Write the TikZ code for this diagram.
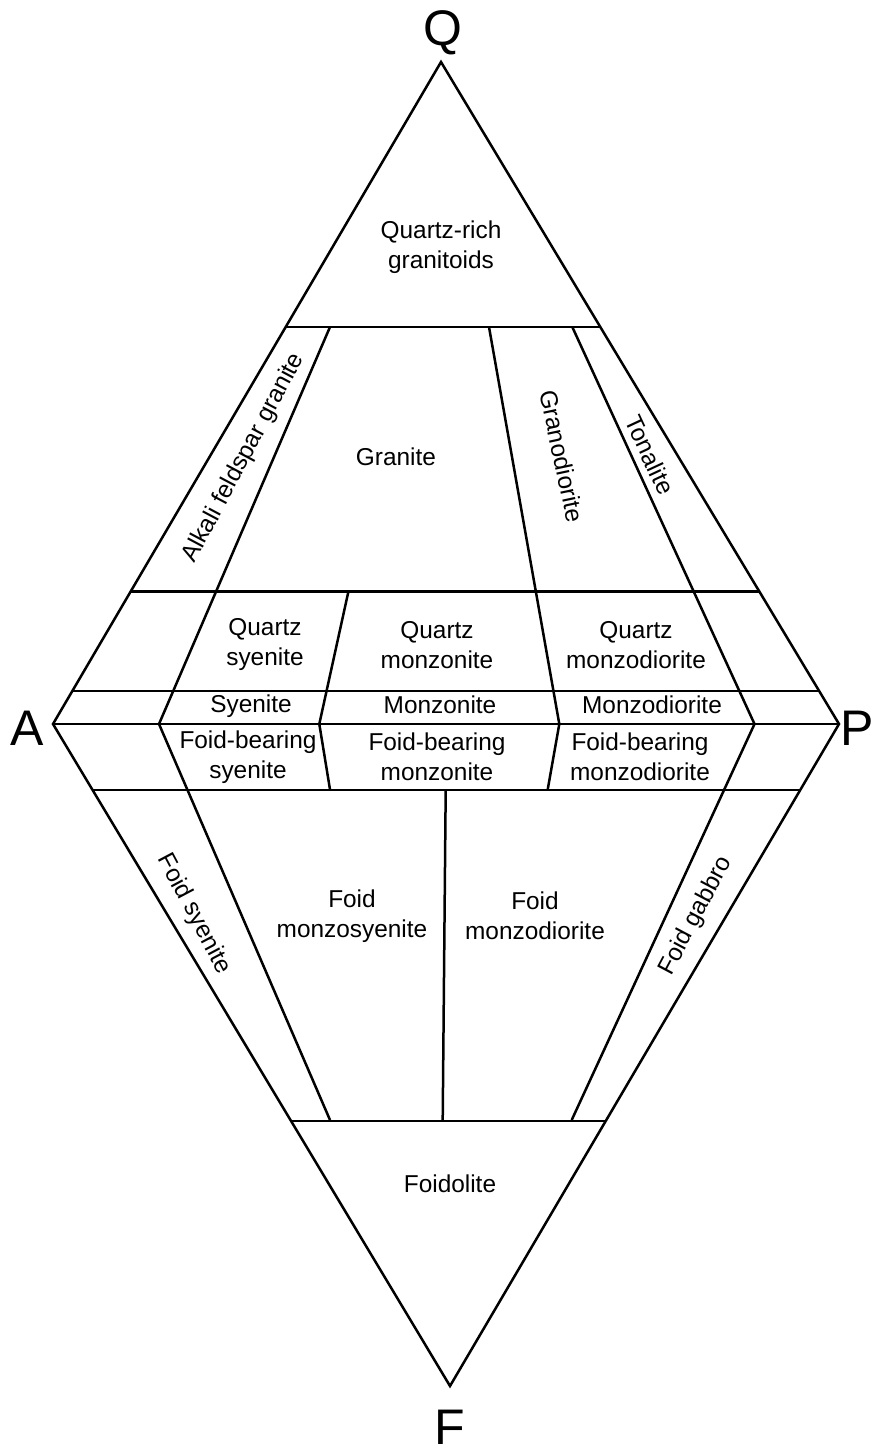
\documentclass[tikz,border=0pt]{standalone}
\usepackage{fontspec}
\setmainfont{Liberation Sans}
\usetikzlibrary{calc}
\begin{document}
\begin{tikzpicture}[x=0.5pt,y=-0.5pt]
\tikzset{
  edge/.style={line width=1.25pt, line join=miter, line cap=butt},
  lbl/.style={font=\fontsize{12.2}{15}\selectfont, align=center, inner sep=0pt},
  apex/.style={font=\fontsize{25}{30}\selectfont, inner sep=0pt, anchor=base}
}
\useasboundingbox (0,0) rectangle (872,1450);
% apexes
\coordinate (Q) at (441,62);
\coordinate (P) at (839,724);
\coordinate (F) at (450,1386);
\coordinate (A) at (53,724);
% horizontal boundary end points
\coordinate (q60a) at ($(Q)!0.4!(A)$);
\coordinate (q60p) at ($(Q)!0.4!(P)$);
\coordinate (q20a) at ($(Q)!0.8!(A)$);
\coordinate (q20p) at ($(Q)!0.8!(P)$);
\coordinate (q5a) at ($(Q)!0.95!(A)$);
\coordinate (q5p) at ($(Q)!0.95!(P)$);
\coordinate (f10a) at ($(F)!0.9!(A)$);
\coordinate (f10p) at ($(F)!0.9!(P)$);
\coordinate (f60a) at ($(F)!0.4!(A)$);
\coordinate (f60p) at ($(F)!0.4!(P)$);
% division line end points
\coordinate (d1t) at (330,327);
\coordinate (d1b) at (159,724);
\coordinate (d2t) at (489,327);
\coordinate (d2b) at (559.3,724);
\coordinate (d3t) at (572.3,327);
\coordinate (d3b) at (754.5,724);
\coordinate (d4t) at (348.3,592);
\coordinate (d4b) at (319.3,724);
\coordinate (e1b) at (330,1120);
\coordinate (e2b) at (330,789.5);
\coordinate (e3b) at (547.7,789.5);
\coordinate (e4b) at (571.7,1120);
\coordinate (m1t) at (445.7,789.5);
\coordinate (m1b) at (442.7,1120);

% outline
\draw[edge] (Q) -- (P) -- (F) -- (A) -- cycle;
% horizontal lines
\draw[edge] (q60a) -- (q60p);
\draw[edge] (q20a) -- (q20p);
\draw[edge] (q5a) -- (q5p);
\draw[edge] (A) -- (P);
\draw[edge] (f10a) -- (f10p);
\draw[edge] (f60a) -- (f60p);
% division lines
\draw[edge] (d1t) -- (d1b);
\draw[edge] (d2t) -- (d2b);
\draw[edge] (d3t) -- (d3b);
\draw[edge] (d4t) -- (d4b);
\draw[edge] (d1b) -- (e1b);
\draw[edge] (d4b) -- (e2b);
\draw[edge] (d2b) -- (e3b);
\draw[edge] (d3b) -- (e4b);
\draw[edge] (m1t) -- (m1b);

% apex letters
\node[apex] (lQ) at (443,46) {Q};
\node[apex] (lA) at (27,745) {A};
\node[apex] (lP) at (857,745) {P};
\node[apex] (lF) at (450,1444) {F};

% field labels
\node[lbl] (qrg) at (441,247) {Quartz-rich\\granitoids};
\node[lbl, rotate=62] (afg) at (244,458) {Alkali feldspar granite};
\node[lbl] (gra) at (396,457) {Granite};
\node[lbl, rotate=-78] (grd) at (562,456) {Granodiorite};
\node[lbl, rotate=-65] (ton) at (650,455) {Tonalite};
\node[lbl] (qsy) at (265,645) {Quartz\\syenite};
\node[lbl] (qmz) at (437,645) {Quartz\\monzonite};
\node[lbl] (qmd) at (636,645) {Quartz\\monzodiorite};
\node[lbl] (sye) at (251,706) {Syenite};
\node[lbl] (mzn) at (440,705) {Monzonite};
\node[lbl] (mzd) at (652,705) {Monzodiorite};
\node[lbl] (fbs) at (248,757) {Foid-bearing\\syenite};
\node[lbl] (fbm) at (437,757) {Foid-bearing\\monzonite};
\node[lbl] (fbd) at (640,757) {Foid-bearing\\monzodiorite};
\node[lbl, rotate=-62] (fsy) at (194,914) {Foid syenite};
\node[lbl] (fms) at (352,916) {Foid\\monzosyenite};
\node[lbl] (fmd) at (535,916) {Foid\\monzodiorite};
\node[lbl, rotate=62] (fgb) at (696,916) {Foid gabbro};
\node[lbl] (fdl) at (450,1184) {Foidolite};
\end{tikzpicture}
\end{document}
